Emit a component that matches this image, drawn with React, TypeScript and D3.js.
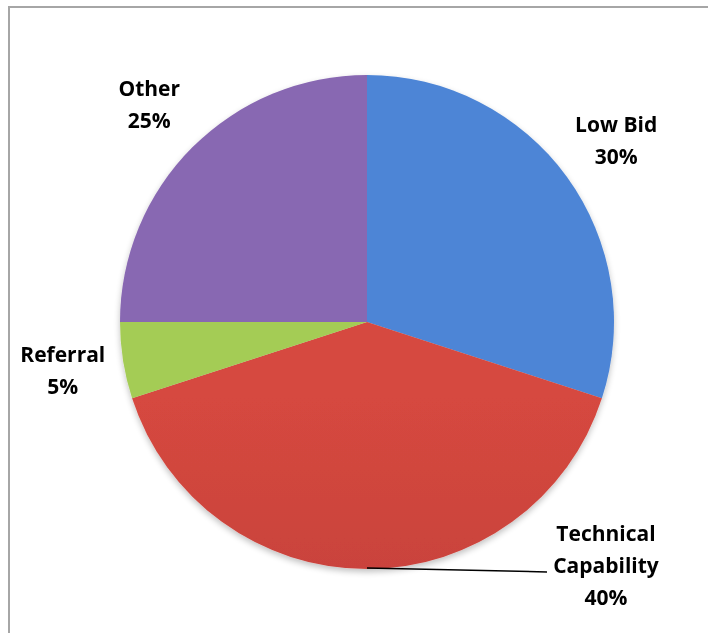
import React from "react";
import * as d3 from "d3";

const categories = ["Low Bid", "Technical Capability", "Referral", "Other"];
const values = [30, 40, 5, 25];
const labelLines = [["Low Bid", "30%"], ["Technical", "Capability", "40%"], ["Referral", "5%"], ["Other", "25%"]];
const colorsTop = ["#4d85d6", "#d6483f", "#a4cc55", "#8867b2"];
const colorsBottom = ["#3f6fb6", "#b33a38", "#8aaa45", "#7558a0"];

const W = 708, H = 633;
const cx = 367, cy = 322, R = 247;

export default function App() {
  const pie = d3.pie<number>().sort(null).value((d) => d)(values);
  const arc = d3.arc<d3.PieArcDatum<number>>().innerRadius(0).outerRadius(R);
  const labelArc = d3.arc<d3.PieArcDatum<number>>().innerRadius(308).outerRadius(308);
  const fontSize = 21;
  const lineH = 32;
  return (
    <div style={{ position: "absolute", left: 0, top: 0, width: W, height: H, background: "#fff" }}>
      <svg width={W} height={H} style={{ display: "block" }}>
        <defs>
          {values.map((_, i) => (
            <linearGradient key={i} id={`g${i}`} gradientUnits="userSpaceOnUse" x1={0} y1={cy - R} x2={0} y2={cy + R}>
              <stop offset="0" stopColor={colorsTop[i]} />
              <stop offset="1" stopColor={colorsBottom[i]} />
            </linearGradient>
          ))}
          {pie.map((p, i) => (
            <clipPath key={i} id={`c${i}`}>
              <path d={arc(p) || ""} transform={`translate(${cx},${cy})`} />
            </clipPath>
          ))}
          <filter id="sh" x="-10%" y="-10%" width="120%" height="120%">
            <feGaussianBlur in="SourceAlpha" stdDeviation="3" />
            <feOffset dx="0" dy="3" result="b" />
            <feComponentTransfer><feFuncA type="linear" slope="0.25" /></feComponentTransfer>
            <feMerge><feMergeNode /><feMergeNode in="SourceGraphic" /></feMerge>
          </filter>
        </defs>
        <rect x={9} y={7} width={720} height={650} fill="#fff" stroke="#a6a6a6" strokeWidth={2} />
        <g filter="url(#sh)">
          {pie.map((p, i) => (
            <g key={categories[i]}>
              <path d={arc(p) || ""} transform={`translate(${cx},${cy})`} fill={`url(#g${i})`} />
              <path d={arc(p) || ""} transform={`translate(${cx},${cy})`} fill="none" stroke="#ffffff" strokeOpacity={0.18} strokeWidth={12} clipPath={`url(#c${i})`} />
              <path d={arc(p) || ""} transform={`translate(${cx},${cy})`} fill="none" stroke="#000" strokeOpacity={0.3} strokeWidth={1.5} clipPath={`url(#c${i})`} />
            </g>
          ))}
        </g>
        <line x1={cx} y1={cy + R - 1} x2={547} y2={572} stroke="#000" strokeWidth={1.5} />
        {pie.map((p, i) => {
          let x: number, y: number;
          if (i === 1) {
            x = 606; y = 566;
          } else {
            const c = labelArc.centroid(p);
            x = cx + c[0]; y = cy + c[1];
          }
          const lines = labelLines[i];
          const n = lines.length;
          return (
            <text key={i} x={x} y={y} textAnchor="middle" fontFamily="'Open Sans', Lato, sans-serif" fontWeight="bold" fontSize={fontSize} fill="#000">
              {lines.map((t, j) => (
                <tspan key={j} x={x} y={y + (j - (n - 1) / 2) * lineH} dy="0.35em">{t}</tspan>
              ))}
            </text>
          );
        })}
      </svg>
    </div>
  );
}
